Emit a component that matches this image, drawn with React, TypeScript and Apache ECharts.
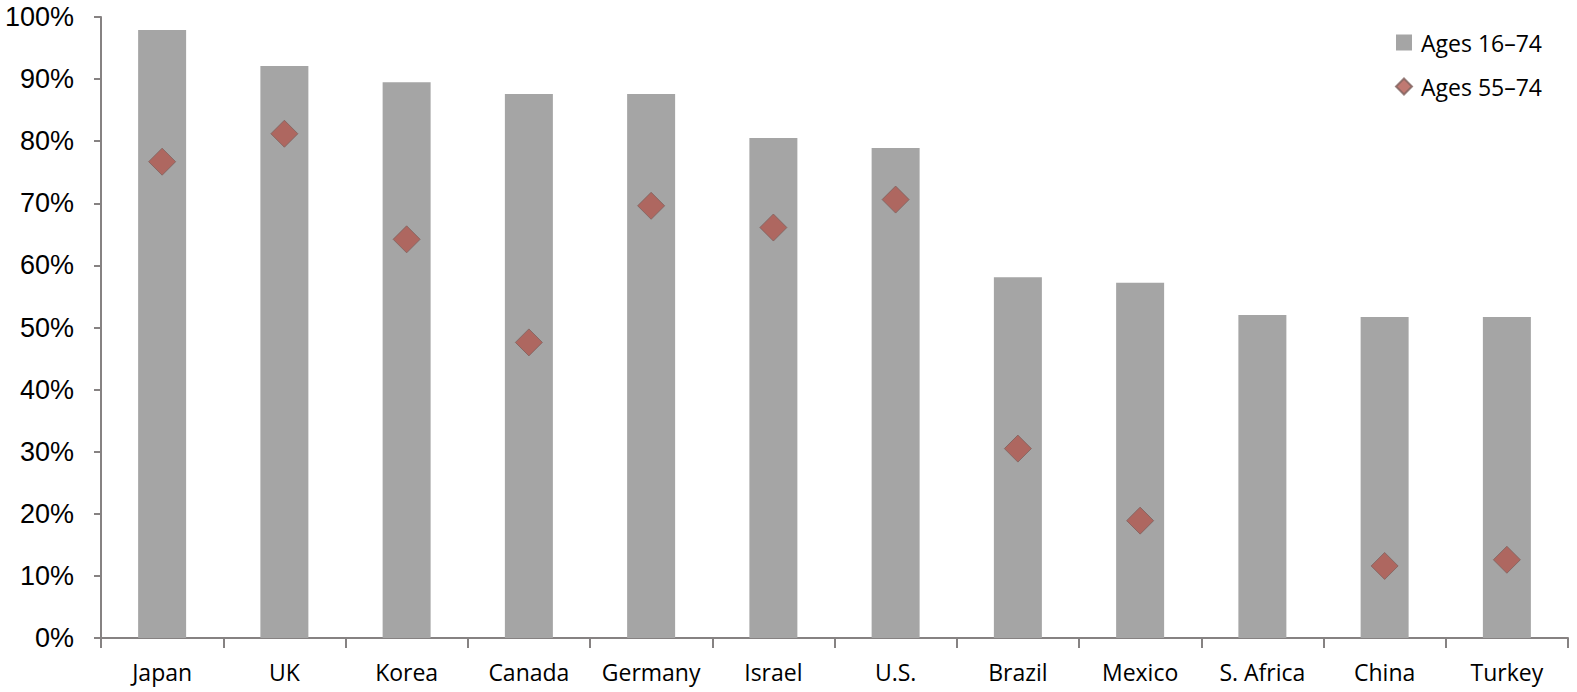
import React, { useEffect, useRef } from "react";
import * as echarts from "echarts";

const categories = ["Japan", "UK", "Korea", "Canada", "Germany", "Israel", "U.S.", "Brazil", "Mexico", "S. Africa", "China", "Turkey"];
const ages16to74 = [97.9, 92.1, 89.5, 87.6, 87.6, 80.5, 78.9, 58.1, 57.2, 52.0, 51.7, 51.7];
const ages55to74: (number | null)[] = [76.7, 81.2, 64.2, 47.6, 69.6, 66.1, 70.6, 30.5, 18.9, null, 11.6, 12.6];
const yTicks = [0, 10, 20, 30, 40, 50, 60, 70, 80, 90, 100];

export default function App() {
  const ref = useRef<HTMLDivElement>(null);
  useEffect(() => {
    if (!ref.current) return;
    const chart = echarts.init(ref.current, undefined, { renderer: "svg" });
    const axisColor = "#868282";
    chart.setOption({
      animation: false,
      backgroundColor: "#ffffff",
      grid: { left: 101, right: 9, top: 17, bottom: 54, containLabel: false },
      legend: {
        orient: "vertical",
        left: 1390,
        top: 26,
        itemWidth: 16,
        itemHeight: 16,
        itemGap: 21,
        textStyle: { fontFamily: "Open Sans", fontSize: 23, color: "#000", padding: [0, 0, 0, 4] },
        data: [
          { name: "Ages 16–74", icon: "rect" },
          { name: "Ages 55–74", icon: "diamond" },
        ],
      },
      xAxis: {
        type: "category",
        data: categories,
        boundaryGap: true,
        axisLine: { show: true, lineStyle: { color: axisColor, width: 2 } },
        axisTick: { show: true, length: 10, lineStyle: { color: axisColor, width: 2 } },
        axisLabel: { fontFamily: "Open Sans", fontSize: 23, color: "#000", margin: 22, interval: 0 },
        splitLine: { show: false },
      },
      yAxis: {
        type: "value",
        min: 0,
        max: 100,
        interval: 10,
        axisLine: { show: true, lineStyle: { color: axisColor, width: 2 } },
        axisTick: { show: true, length: 7, lineStyle: { color: axisColor, width: 2 } },
        axisLabel: {
          fontFamily: "Liberation Sans",
          fontSize: 27,
          color: "#000",
          margin: 27,
          formatter: (v: number) => (yTicks.includes(v) ? v + "%" : ""),
        },
        splitLine: { show: false },
      },
      series: [
        {
          name: "Ages 16–74",
          type: "bar",
          data: ages16to74,
          barWidth: 48,
          itemStyle: { color: "#a5a5a5" },
          z: 1,
        },
        {
          name: "Ages 55–74",
          type: "scatter",
          data: ages55to74,
          symbol: "diamond",
          symbolSize: 27,
          itemStyle: { color: "#b0574f", borderColor: "#80625e", borderWidth: 1 },
          z: 3,
        },
      ],
    });
    return () => chart.dispose();
  }, []);
  return (
    <div
      ref={ref}
      style={{ position: "fixed", left: 0, top: 0, width: 1577, height: 692, background: "#fff" }}
    />
  );
}
